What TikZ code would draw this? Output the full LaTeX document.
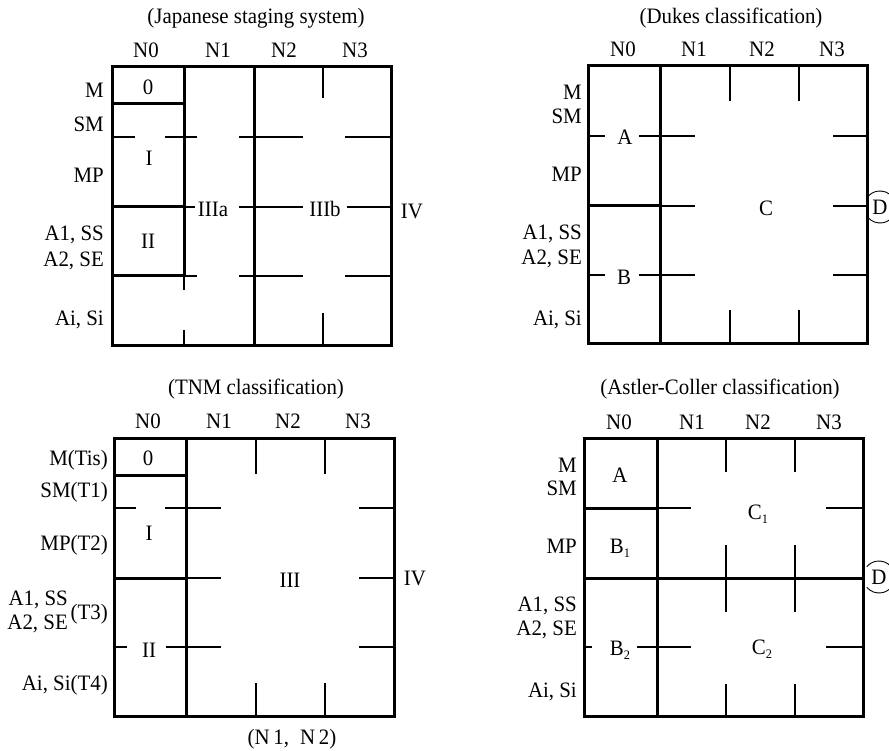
\documentclass[tikz,border=0pt]{standalone}
\usepackage{fontspec}
\setmainfont[FakeStretch=0.95]{Liberation Serif}
\newcommand\lowsub[1]{\raisebox{-0.2em}{\fontsize{13}{13}\selectfont #1}}
\begin{document}
\begin{tikzpicture}[x=1pt,y=-1pt,
  every node/.style={font=\fontsize{22}{24}\selectfont, inner sep=0pt, text height=15pt, text depth=0pt},
  thk/.style={line width=3pt, line cap=rect},
  thn/.style={line width=1.3pt},
  rl/.style={anchor=east},
  arcline/.style={line width=0.9pt}]
\useasboundingbox (0,0) rectangle (889,751);

% ================= Panel 1: Japanese =================
\node (t1) at (256,16) {(Japanese staging system)};
\foreach \n/\x in {0/146,1/218,2/284,3/355} \node (p1n\n) at (\x,50) {N\n};
\node[rl] (p1r1) at (104,90) {M};
\node[rl] (p1r2) at (104,124) {SM};
\node[rl] (p1r3) at (104,175) {MP};
\node[rl] (p1r4) at (104,233) {A1, SS};
\node[rl] (p1r5) at (104,259) {A2, SE};
\node[rl] (p1r6) at (104,318) {Ai, Si};
\draw[thk] (112,67) rectangle (391,346);
\draw[thk] (184,67) -- (184,276);
\draw[thk] (254,67) -- (254,346);
\draw[thk] (112,104) -- (184,104);
\draw[thk] (112,207) -- (184,207);
\draw[thk] (112,276) -- (184,276);
\draw[thn] (184,276) -- (184,290) (184,330) -- (184,346);
\draw[thn] (323,67) -- (323,98) (323,313) -- (323,346);
\draw[thn] (112,137) -- (135,137) (165,137) -- (197,137) (239,137) -- (303,137) (345,137) -- (391,137);
\draw[thn] (184,207) -- (195,207) (239,207) -- (303,207) (347,207) -- (391,207);
\draw[thn] (184,276) -- (197,276) (239,276) -- (303,276) (345,276) -- (391,276);
\node (s0) at (148,87) {0};
\node (s1) at (149,158) {I};
\node (s2) at (148,241) {II};
\node (s3a) at (213,209) {IIIa};
\node (s3b) at (325,209) {IIIb};
\node (s4) at (412,211) {IV};

% ================= Panel 2: Dukes =================
\node (t2) at (731,16) {(Dukes classification)};
\foreach \n/\x in {0/623,1/694,2/762,3/832} \node (p2n\n) at (\x,49) {N\n};
\node[rl] (p2r1) at (582,92) {M};
\node[rl] (p2r2) at (582,116) {SM};
\node[rl] (p2r3) at (582,174) {MP};
\node[rl] (p2r4) at (582,232) {A1, SS};
\node[rl] (p2r5) at (582,257) {A2, SE};
\node[rl] (p2r6) at (582,318) {Ai, Si};
\draw[thk] (588,66) rectangle (867,344);
\draw[thk] (660,66) -- (660,344);
\draw[thk] (588,206) -- (660,206);
\draw[thn] (588,136) -- (605,136) (639,136) -- (695,136) (833,136) -- (867,136);
\draw[thn] (660,206) -- (695,206) (833,206) -- (867,206);
\draw[thn] (588,275) -- (605,275) (639,275) -- (695,275) (833,275) -- (867,275);
\draw[thn] (730,66) -- (730,101) (730,310) -- (730,344);
\draw[thn] (799,66) -- (799,101) (799,310) -- (799,344);
\node (dA) at (625,137) {A};
\node (dB) at (624,277) {B};
\node (dC) at (766,208) {C};
\node (dD) at (880,207) {D};
\draw[arcline] (dD.center) ++(40:16pt) arc[start angle=40, end angle=140, radius=16pt];
\draw[arcline] (dD.center) ++(220:16pt) arc[start angle=220, end angle=320, radius=16pt];

% ================= Panel 3: TNM =================
\node (t3) at (256,387) {(TNM classification)};
\foreach \n/\x in {0/148,1/219,2/288,3/358} \node (p3n\n) at (\x,421) {N\n};
\node[rl] (p3r1) at (108,458) {M(Tis)};
\node[rl] (p3r2) at (108,490) {SM(T1)};
\node[rl] (p3r3) at (108,543) {MP(T2)};
\node[rl] (p3r4) at (68,598) {A1, SS};
\node[rl] (p3r5) at (68,622) {A2, SE};
\node[rl] (p3r5b) at (108,612) {(T3)};
\node[rl] (p3r6) at (108,683) {Ai, Si(T4)};
\draw[thk] (114,438) rectangle (394,716);
\draw[thk] (186,438) -- (186,716);
\draw[thk] (114,475) -- (186,475);
\draw[thk] (114,578) -- (186,578);
\draw[thn] (114,508) -- (136,508) (165,508) -- (221,508) (359,508) -- (394,508);
\draw[thn] (186,578) -- (221,578) (359,578) -- (394,578);
\draw[thn] (114,647) -- (127,647) (166,647) -- (221,647) (359,647) -- (394,647);
\draw[thn] (256,438) -- (256,474) (256,683) -- (256,716);
\draw[thn] (325,438) -- (325,474) (325,683) -- (325,716);
\node (u0) at (148,458) {0};
\node (u1) at (149,533) {I};
\node (u2) at (149,650) {II};
\node (u3) at (290,580) {III};
\node (u4) at (415,578) {IV};
\node (u5) at (292,737) {(N\,1,\enspace N\,2)};

% ================= Panel 4: Astler-Coller =================
\node (t4) at (720,387) {(Astler-Coller classification)};
\foreach \n/\x in {0/619,1/692,2/758,3/829} \node (p4n\n) at (\x,422) {N\n};
\node[rl] (p4r1) at (577,465) {M};
\node[rl] (p4r2) at (577,488) {SM};
\node[rl] (p4r3) at (577,546) {MP};
\node[rl] (p4r4) at (577,604) {A1, SS};
\node[rl] (p4r5) at (577,628) {A2, SE};
\node[rl] (p4r6) at (577,690) {Ai, Si};
\draw[thk] (584,438) rectangle (863,716);
\draw[thk] (657,438) -- (657,716);
\draw[thk] (584,508) -- (657,508);
\draw[thk] (584,578) -- (863,578);
\draw[thn] (657,508) -- (691,508) (826,508) -- (863,508);
\draw[thn] (584,647) -- (592,647) (637,647) -- (691,647) (826,647) -- (863,647);
\draw[thn] (726,438) -- (726,472) (726,545) -- (726,612) (726,684) -- (726,716);
\draw[thn] (795,438) -- (795,472) (795,545) -- (795,612) (795,684) -- (795,716);
\node (aA) at (620,475) {A};
\node (aB1) at (620,546) {B\lowsub{1}};
\node (aB2) at (620,648) {B\lowsub{2}};
\node (aC1) at (758,512) {C\lowsub{1}};
\node (aC2) at (762,647) {C\lowsub{2}};
\node (aD) at (879,577) {D};
\draw[arcline] (aD.center) ++(40:16pt) arc[start angle=40, end angle=140, radius=16pt];
\draw[arcline] (aD.center) ++(220:16pt) arc[start angle=220, end angle=320, radius=16pt];
\end{tikzpicture}
\end{document}
